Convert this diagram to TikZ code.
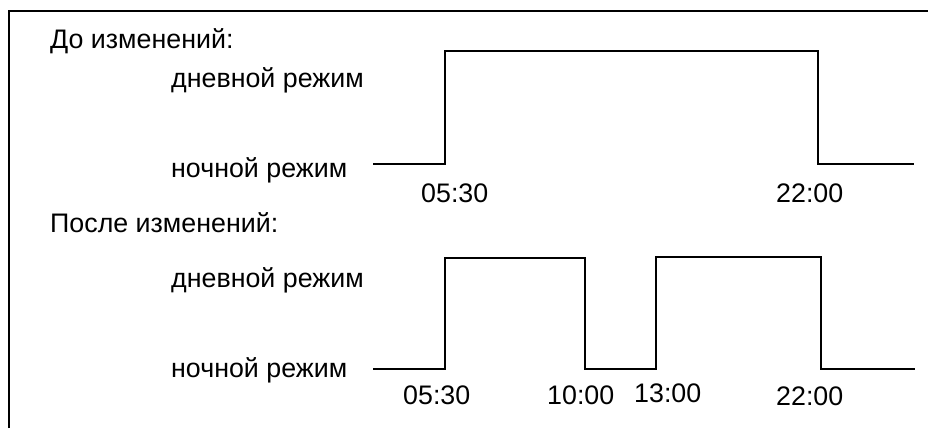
\documentclass[tikz,border=0pt]{standalone}
\usepackage{fontspec}
\setmainfont{Liberation Sans}
\begin{document}
\begin{tikzpicture}[x=1bp,y=-1bp,
  lbl/.style={anchor=base west, inner sep=0pt, font=\fontsize{26.8bp}{30bp}\selectfont},
  wave/.style={line width=2.3bp, line join=miter, line cap=butt}]
\useasboundingbox (0,0) rectangle (928,428);
% frame (left and top edges only)
\draw[wave] (9,428) -- (9,11) -- (928,11);
% labels
\node[lbl] (before) at (50,48) {До изменений:};
\node[lbl] (day1) at (171,87) {дневной режим};
\node[lbl] (night1) at (171,177) {ночной режим};
\node[lbl] (t1a) at (421,202) {05:30};
\node[lbl] (t1b) at (776,202) {22:00};
\node[lbl] (after) at (50,232) {После изменений:};
\node[lbl] (day2) at (171,287) {дневной режим};
\node[lbl] (night2) at (171,377) {ночной режим};
\node[lbl] (t2a) at (403,404) {05:30};
\node[lbl] (t2b) at (547,404) {10:00};
\node[lbl] (t2c) at (634,402) {13:00};
\node[lbl] (t2d) at (776,405) {22:00};
% waveform before
\coordinate (a0) at (373,164);
\coordinate (a1) at (445,164);
\coordinate (a2) at (445,51);
\coordinate (a3) at (818,51);
\coordinate (a4) at (818,164);
\coordinate (a5) at (914,164);
\draw[wave] (a0) -- (a1) -- (a2) -- (a3) -- (a4) -- (a5);
% waveform after
\coordinate (b0) at (373,369);
\coordinate (b1) at (445,369);
\coordinate (b2) at (445,258);
\coordinate (b3) at (585,258);
\coordinate (b4) at (585,369);
\coordinate (b5) at (656,369);
\coordinate (b6) at (656,257);
\coordinate (b7) at (821,257);
\coordinate (b8) at (821,369);
\coordinate (b9) at (915,369);
\draw[wave] (b0) -- (b1) -- (b2) -- (b3) -- (b4) -- (b5) -- (b6) -- (b7) -- (b8) -- (b9);
\end{tikzpicture}
\end{document}
